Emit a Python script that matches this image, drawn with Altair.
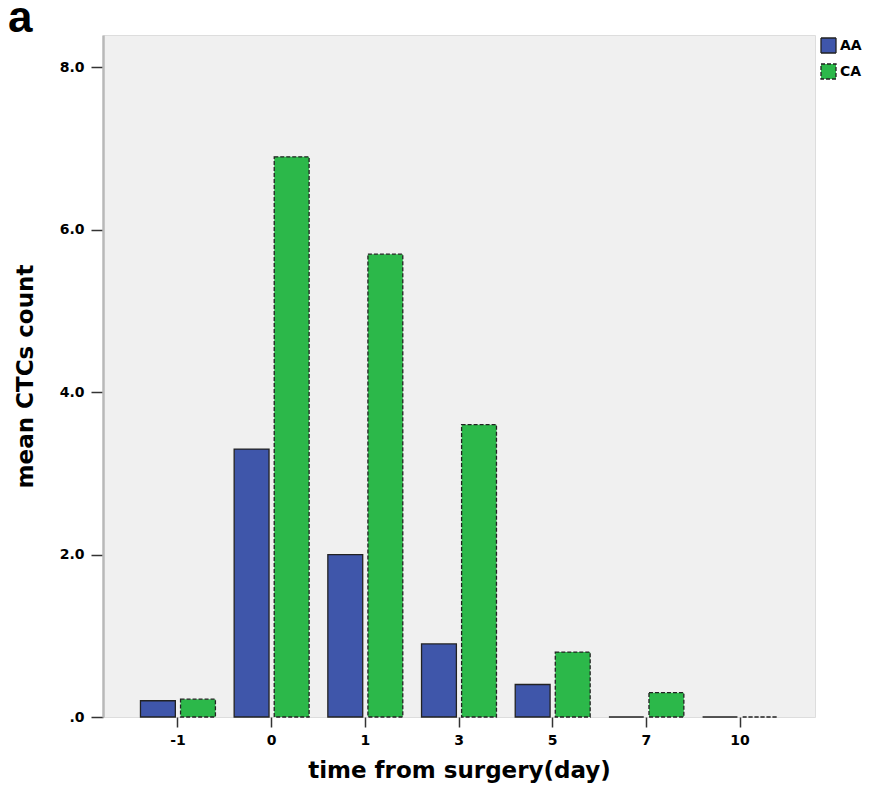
import altair as alt
import pandas as pd

days = ["-1", "0", "1", "3", "5", "7", "10"]
aa_values = [0.2, 3.3, 2.0, 0.9, 0.4, 0.0, 0.0]
ca_values = [0.22, 6.9, 5.7, 3.6, 0.8, 0.3, 0.0]
groups = ["AA", "CA"]
colors = ["#3f56aa", "#2cb84a"]
panel_label = ["a"]

rows = []
for d, a, c in zip(days, aa_values, ca_values):
    rows.append({"day": d, "group": "AA", "value": a})
    rows.append({"day": d, "group": "CA", "value": c})
df = pd.DataFrame(rows)

font = "DejaVu Sans"
axis_style = dict(labelFont=font, labelFontSize=14, labelFontWeight="bold", labelColor="black",
                  titleFont=font, titleFontSize=23, titleFontWeight="bold", titleColor="black")

bars = alt.Chart(df).mark_bar(stroke="#222222", strokeWidth=1.3).encode(
    x=alt.X("day:N", sort=days,
            scale=alt.Scale(paddingInner=0.2, paddingOuter=0.4),
            axis=alt.Axis(title="time from surgery(day)", labelAngle=0, domain=False,
                          tickColor="#333333", tickSize=10, tickWidth=1.5, labelPadding=6,
                          titlePadding=12, **axis_style)),
    xOffset=alt.XOffset("group:N", scale=alt.Scale(paddingInner=0.13, paddingOuter=0)),
    y=alt.Y("value:Q", scale=alt.Scale(domain=[0, 8.4], nice=False),
            axis=alt.Axis(title="mean CTCs count", values=[0, 2, 4, 6, 8], grid=False,
                          labelExpr="datum.value == 0 ? '.0' : format(datum.value, '.1f')",
                          domainColor="#b8b8b8", domainWidth=2.5, tickColor="#333333",
                          tickSize=12, tickWidth=1.5, labelPadding=7, titlePadding=22,
                          **axis_style)),
    color=alt.Color("group:N", scale=alt.Scale(domain=groups, range=colors),
                    legend=alt.Legend(title=None, orient="right", offset=3, symbolType="square",
                                      symbolSize=225, symbolStrokeColor="#222222",
                                      symbolStrokeWidth=1.3, symbolOpacity=1,
                                      labelFontSize=14, labelFontWeight="bold",
                                      labelFont=font, labelColor="black", rowPadding=5,
                                      labelOffset=3, padding=2)),
    strokeDash=alt.StrokeDash("group:N", scale=alt.Scale(domain=groups, range=[[1, 0], [4, 2]])),
)

label = alt.Chart(pd.DataFrame({"t": panel_label})).mark_text(
    font="Liberation Sans", fontSize=44, fontWeight="bold", color="black",
    align="left", baseline="alphabetic"
).encode(text="t:N", x=alt.value(-95), y=alt.value(-3))

chart = alt.layer(bars, label).properties(
    width=712, height=682,
    background="white",
    autosize=alt.AutoSizeParams(type="none"),
    padding={"left": 95, "top": 27, "right": 48, "bottom": 75},
).configure_view(
    fill="#f0f0f0", stroke="#dddddd", strokeWidth=1
)

chart.save("out.html", embed_options={"renderer": "svg", "actions": False})
